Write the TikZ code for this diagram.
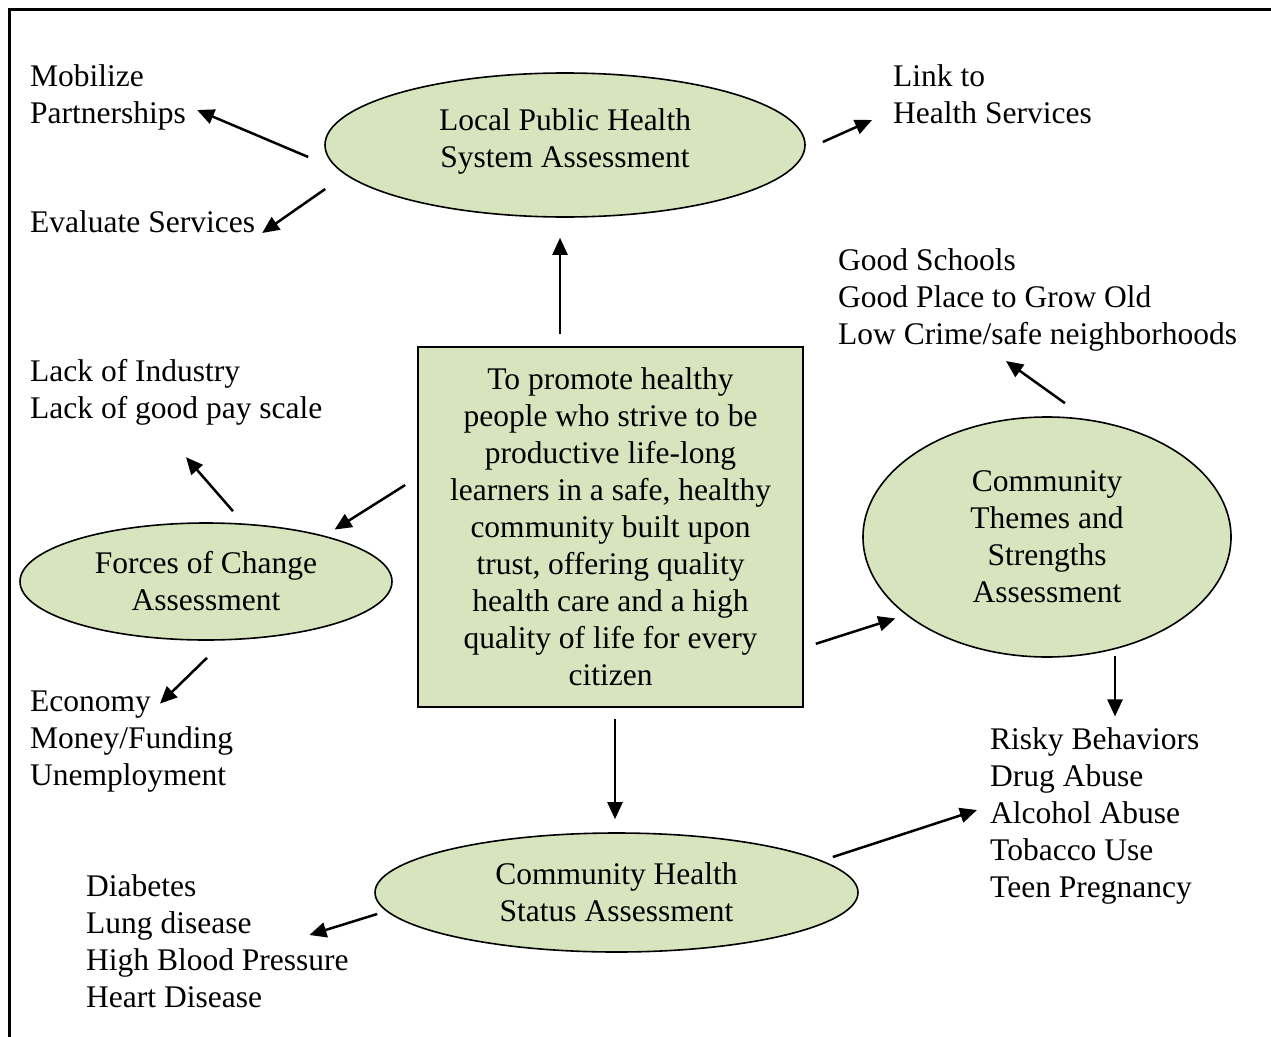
\documentclass[tikz,border=0pt]{standalone}
\usepackage{fontspec}
\setmainfont{Liberation Serif}
\usetikzlibrary{shapes.geometric,arrows.meta}
\definecolor{sage}{HTML}{D7E4BD}
\tikzset{
	txt/.style={font=\fontsize{31.5}{37}\selectfont, inner sep=0pt},
	lbl/.style={txt, align=left, anchor=west},
	oval/.style={txt, ellipse, draw, line width=1.6pt, fill=sage, align=center},
	arr/.style={line width=2.5pt, -{Triangle[length=17pt,width=15pt]}}
}

\begin{document}
\begin{tikzpicture}[x=1pt, y=-1pt]
			%%%%% START %%%%%
			\useasboundingbox (0, 0) rectangle (1271, 1036);
			\draw[line width=3pt] (9, 1045) -- (9, 9) -- (1280, 9);
			
			\node[oval, minimum width=480, minimum height=144] (lphs) at (565, 145) {Local Public Health\\System Assessment\rule[-13pt]{0pt}{0pt}};
			\node[oval, minimum width=372, minimum height=117] (foc) at (206, 581.5) {Forces of Change\\Assessment};
			\node[oval, minimum width=368, minimum height=240] (cts) at (1047, 537) {Community\\Themes and\\Strengths\\Assessment};
			\node[oval, minimum width=483, minimum height=119] (chs) at (616.5, 892.5) {Community Health\\Status Assessment};
			
			\node[txt, draw, line width=1.6pt, fill=sage, align=center, minimum width=385, minimum height=360] (mission) at (610.5, 527) {To promote healthy\\people who strive to be\\productive life-long\\learners in a safe, healthy\\community built upon\\trust, offering quality\\health care and a high\\quality of life for every\\citizen};
			
			\node[lbl] (mobil) at (30, 97.5) {Mobilize\\Partnerships};
			\node[lbl] (evalsrv) at (30, 221.5) {Evaluate Services};
			\node[lbl] (link) at (893, 94) {Link to\\Health Services};
			\node[lbl] (good) at (838, 300) {Good Schools\\Good Place to Grow Old\\Low Crime/safe neighborhoods};
			\node[lbl] (lack) at (30, 392.5) {Lack of Industry\\Lack of good pay scale};
			\node[lbl] (econ) at (30, 742) {Economy\\Money/Funding\\Unemployment};
			\node[lbl] (risky) at (990, 815.5) {Risky Behaviors\\Drug Abuse\\Alcohol Abuse\\Tobacco Use\\Teen Pregnancy};
			\node[lbl] (diab) at (86, 941.5) {Diabetes\\Lung disease\\High Blood Pressure\\Heart Disease};
			
			% arrows out of the local system ellipse
			\draw[arr] ([shift={(-16,12)}]lphs.west) -- ([shift={(11,12.5)}]mobil.east);
			\draw[arr] ([shift={(1,44)}]lphs.west) -- ([shift={(7,11.5)}]evalsrv.east);
			\draw[arr] ([shift={(17,-3)}]lphs.east) -- ([shift={(-21,26)}]link.west);
			
			% arrows out of the mission box
			\draw[arr] ([shift={(-50.5,-12)}]mission.north) -- ([shift={(-5,20)}]lphs.south);
			\draw[arr] ([shift={(-12,-42)}]mission.west) -- ([shift={(-3.5,-10)}]foc.north east);
			\draw[arr] ([shift={(4.5,11)}]mission.south) -- ([shift={(-1.5,-13)}]chs.north);
			\draw[arr] ([shift={(12,-64)}]mission.south east) -- ([shift={(-21,-4)}]cts.south west);
			
			\draw[arr] ([shift={(27,-11)}]foc.north) -- ([shift={(156,31.5)}]lack.south west);
			\draw[arr] ([shift={(1,17)}]foc.south) -- ([shift={(130,12.5)}]econ.north west);
			
			\draw[arr] ([shift={(18,-13)}]cts.north) -- ([shift={(168,9.5)}]good.south west);
			\draw[arr] ([shift={(68,-2)}]cts.south) -- ([shift={(125,-10.5)}]risky.north west);
			
			\draw[arr] ([shift={(-26,-35.5)}]chs.east) -- ([shift={(-13,-5.5)}]risky.west);
			\draw[arr] ([shift={(3,21.5)}]chs.west) -- ([shift={(-39.5,-6.5)}]diab.east);
			
			%%%%% END %%%%%
\end{tikzpicture}
\end{document}
